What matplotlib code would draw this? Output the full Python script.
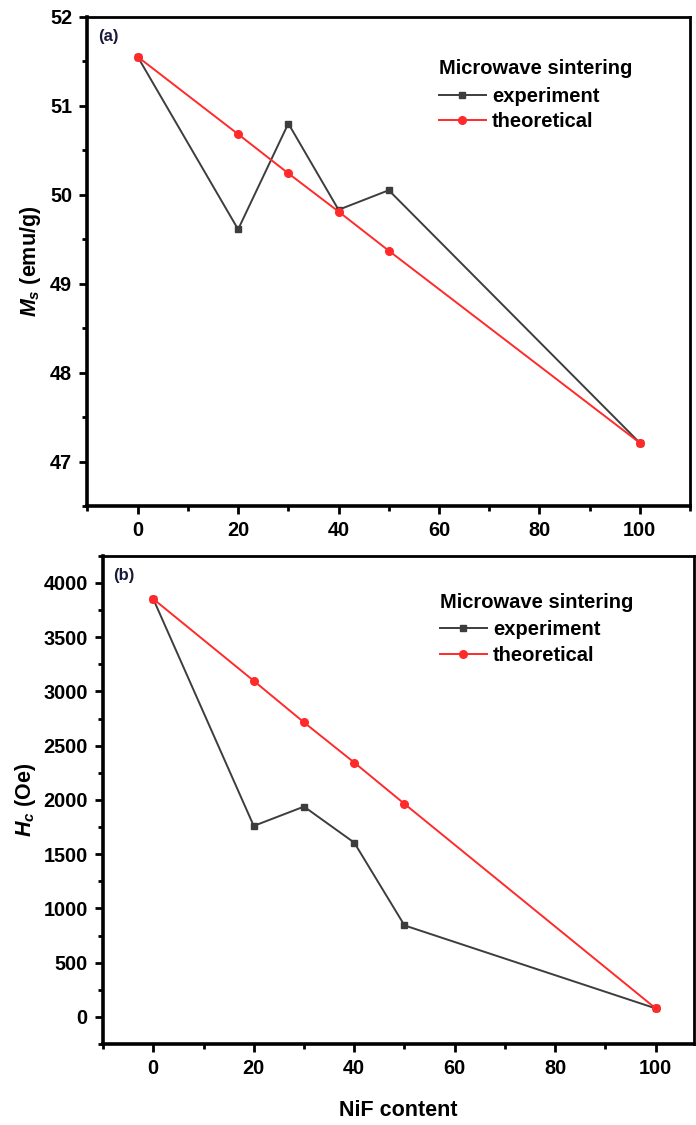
import matplotlib
matplotlib.use("Agg")
import matplotlib.pyplot as plt
from matplotlib.ticker import MultipleLocator

plt.rcParams['font.family'] = ['Liberation Sans', 'DejaVu Sans']
plt.rcParams['font.weight'] = 'bold'
plt.rcParams['mathtext.fontset'] = 'custom'
plt.rcParams['mathtext.it'] = 'Liberation Sans:bold:italic'
plt.rcParams['mathtext.rm'] = 'Liberation Sans:bold'
plt.rcParams['mathtext.bf'] = 'Liberation Sans:bold'

# NiF content
nif = [0, 20, 30, 40, 50, 100]

# panel (a): saturation magnetisation, emu/g
ms_exp = [51.55, 49.61, 50.80, 49.83, 50.05, 47.21]
ms_theo = [51.55, 50.68, 50.24, 49.81, 49.37, 47.21]

# panel (b): coercivity, Oe
hc_exp = [3852, 1760, 1938, 1606, 843, 78]
hc_theo = [3852, 3097, 2714, 2344, 1963, 78]

exp_color = '#3d3d3d'
theo_color = '#ff2a2a'

fig = plt.figure(figsize=(6.96, 11.25), dpi=100)
ax1 = fig.add_axes([0.1257, 0.5502, 0.8657, 0.4349])
ax2 = fig.add_axes([0.148, 0.072, 0.849, 0.434])


def style_axis(ax):
    for side in ['left', 'bottom']:
        ax.spines[side].set_linewidth(2.6)
    for side in ['top', 'right']:
        ax.spines[side].set_linewidth(2.0)
    ax.tick_params(which='major', direction='out', length=6, width=2,
                   labelsize=14.3, pad=5)
    ax.tick_params(which='minor', direction='out', length=3.5, width=2)
    for lab in ax.get_xticklabels() + ax.get_yticklabels():
        lab.set_fontweight('bold')


def draw(ax, y_exp, y_theo, leg_anchor):
    ax.plot(nif, y_exp, color=exp_color, lw=1.4, marker='s', ms=5,
            label='experiment')
    ax.plot(nif, y_theo, color=theo_color, lw=1.4, marker='o', ms=5.5,
            label='theoretical')
    leg = ax.legend(loc='upper left', bbox_to_anchor=leg_anchor,
                    frameon=False, title='Microwave sintering',
                    alignment='left', handlelength=2.35, handletextpad=0.3,
                    labelspacing=0.32, borderpad=0, borderaxespad=0,
                    prop={'size': 14.5, 'weight': 'bold'},
                    title_fontproperties={'size': 14.5, 'weight': 'bold'})
    leg._legend_box.sep = 6


# (a)
draw(ax1, ms_exp, ms_theo, (0.583, 0.913))
ax1.set_xlim(-10, 110)
ax1.set_ylim(46.5, 52)
ax1.xaxis.set_major_locator(MultipleLocator(20))
ax1.xaxis.set_minor_locator(MultipleLocator(10))
ax1.yaxis.set_major_locator(MultipleLocator(1))
ax1.yaxis.set_minor_locator(MultipleLocator(0.5))
ax1.set_ylabel(r'$M_s$ (emu/g)', fontsize=15.5, fontweight='bold', labelpad=5)
ax1.text(0.017, 0.975, '(a)', transform=ax1.transAxes, fontsize=12,
         fontweight='bold', color='#1a1a3a', va='top')
style_axis(ax1)

# (b)
draw(ax2, hc_exp, hc_theo, (0.57, 0.924))
ax2.set_xlim(-10, 107.6)
ax2.set_ylim(-250, 4250)
ax2.xaxis.set_major_locator(MultipleLocator(20))
ax2.xaxis.set_minor_locator(MultipleLocator(10))
ax2.yaxis.set_major_locator(MultipleLocator(500))
ax2.yaxis.set_minor_locator(MultipleLocator(250))
ax2.set_ylabel(r'$H_c$ (Oe)', fontsize=15.5, fontweight='bold', labelpad=4)
ax2.set_xlabel('NiF content', fontsize=15.5, fontweight='bold', labelpad=16)
ax2.text(0.017, 0.975, '(b)', transform=ax2.transAxes, fontsize=12,
         fontweight='bold', color='#1a1a3a', va='top')
style_axis(ax2)

fig.savefig('out.png', dpi=100, facecolor='white')
